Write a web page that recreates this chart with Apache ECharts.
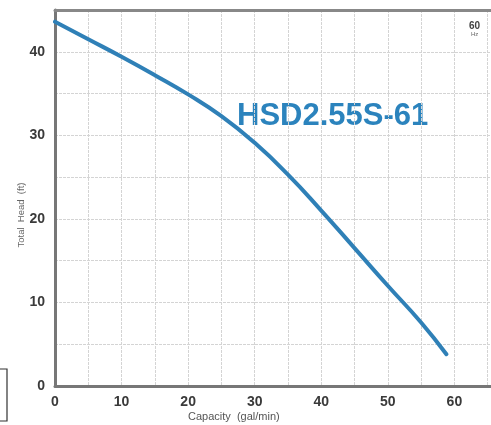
<!DOCTYPE html>
<html>
<head>
<meta charset="utf-8">
<script src="https://cdn.jsdelivr.net/npm/echarts@6/dist/echarts.min.js"></script>
<style>html,body{margin:0;padding:0;background:#fff;}#c{width:491px;height:425px;}</style>
</head>
<body>
<div id="c"></div>
<script>
const capacity = [0, 5, 10, 15, 20, 25, 30, 35, 40, 45, 50, 55, 58.8];
const head = [43.6, 41.5, 39.4, 37.2, 34.9, 32.3, 29.1, 25.3, 21.0, 16.5, 12.0, 7.6, 3.8];
const xTicks = [0, 10, 20, 30, 40, 50, 60];
const yTicks = [0, 10, 20, 30, 40];
const modelName = 'HSD2.55S-61';

const chart = echarts.init(document.getElementById('c'));
const labelStyle = {color: '#3a3a3a', fontWeight: 'bold', fontSize: 14, fontFamily: 'Liberation Sans, Arial, sans-serif'};
chart.setOption({
  backgroundColor: '#fff',
  animation: false,
  grid: {left: 55, right: 0, top: 10, bottom: 39},
  xAxis: [{
    type: 'value', min: 0, max: 65.5, interval: 5,
    axisLine: {show: true, lineStyle: {color: '#777', width: 3}},
    axisTick: {show: false},
    splitLine: {show: true, lineStyle: {color: '#d4d4d4', width: 1, type: [3, 1]}},
    axisLabel: Object.assign({margin: 9, showMaxLabel: false,
      formatter: v => xTicks.indexOf(v) >= 0 ? String(v) : ''}, labelStyle)
  }, {
    type: 'value', min: 0, max: 65.5, position: 'top',
    axisLine: {show: true, onZero: false, lineStyle: {color: '#888', width: 3}},
    axisTick: {show: false}, axisLabel: {show: false}, splitLine: {show: false}
  }],
  yAxis: {
    type: 'value', min: 0, max: 45, interval: 5,
    axisLine: {show: true, lineStyle: {color: '#777', width: 3}},
    axisTick: {show: false},
    splitLine: {show: true, lineStyle: {color: '#d4d4d4', width: 1, type: [3, 1]}},
    axisLabel: Object.assign({margin: 10, showMaxLabel: false,
      formatter: v => yTicks.indexOf(v) >= 0 ? String(v) : ''}, labelStyle)
  },
  series: [{
    type: 'line', smooth: 0.5, showSymbol: false, xAxisIndex: 0,
    data: capacity.map((c, i) => [c, head[i]]),
    lineStyle: {color: '#2f80b7', width: 4, cap: 'round'}
  }],
  graphic: [
    {type: 'text', left: 237, top: 101, style: {text: modelName, fill: '#2b83bd', font: 'bold 31px "Liberation Sans", Arial, sans-serif'}},
    {type: 'text', left: 469, top: 21, style: {text: '60', fill: '#444', font: 'bold 10px "Liberation Sans", Arial, sans-serif'}},
    {type: 'text', left: 471, top: 31, style: {text: 'Hz', fill: '#666', font: '6px "Liberation Sans", Arial, sans-serif'}},
    {type: 'text', left: 188, top: 411, style: {text: 'Capacity  (gal/min)', fill: '#555', font: '11px "Liberation Sans", Arial, sans-serif'}},
    {type: 'text', x: 21, y: 215, rotation: Math.PI / 2, style: {text: 'Total  Head  (ft)', fill: '#666', font: '9.5px "Liberation Sans", Arial, sans-serif', align: 'center', verticalAlign: 'middle'}},
    {type: 'rect', shape: {x: -5, y: 369, width: 12, height: 52}, style: {fill: 'none', stroke: '#333', lineWidth: 1.2}}
  ]
});
</script>
</body>
</html>
